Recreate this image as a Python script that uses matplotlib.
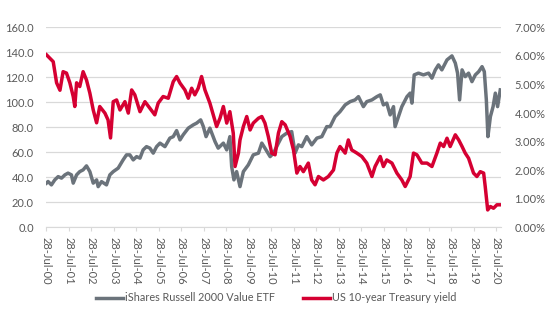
import matplotlib
matplotlib.use("Agg")
import matplotlib.pyplot as plt
from matplotlib.ticker import FuncFormatter

# years since 28-Jul-2000
gray_t = [0, 0.07, 0.22, 0.37, 0.52, 0.67, 0.82, 0.96, 1.11, 1.19,
          1.34, 1.48, 1.63, 1.78, 1.93, 2.08, 2.23, 2.3, 2.45, 2.67,
          2.82, 2.97, 3.19, 3.41, 3.56, 3.71, 3.86, 4.01, 4.16, 4.3,
          4.45, 4.6, 4.75, 4.9, 5.05, 5.27, 5.49, 5.64, 5.79, 5.94,
          6.08, 6.31, 6.53, 6.68, 6.86, 6.98, 7.1, 7.27, 7.5, 7.64,
          7.87, 8.02, 8.16, 8.24, 8.34, 8.46, 8.61, 8.76, 8.98, 9.2,
          9.43, 9.58, 9.72, 9.95, 10.1, 10.32, 10.47, 10.69, 10.91, 11.06,
          11.21, 11.36, 11.58, 11.8, 12.03, 12.25, 12.47, 12.62, 12.84, 13.06,
          13.29, 13.51, 13.73, 13.88, 14.1, 14.25, 14.48, 14.7, 14.85, 14.99,
          15.14, 15.29, 15.44, 15.51, 15.66, 15.81, 16.04, 16.18, 16.26, 16.36,
          16.55, 16.77, 17.0, 17.15, 17.3, 17.44, 17.59, 17.82, 18.04, 18.19,
          18.29, 18.38, 18.49, 18.63, 18.78, 18.93, 19.08, 19.23, 19.38, 19.48,
          19.57, 19.64, 19.75, 19.87, 19.97, 20.07, 20.19]
etf = [35.4, 36.7, 34, 38, 40.6, 39.4, 42, 43.4, 42, 35.4,
       42, 44.6, 46, 49.2, 44.6, 35.4, 38, 32.6, 36.6, 34,
       42, 44.6, 47.4, 54, 58, 58, 54, 56.6, 55.4, 62,
       64.6, 63.4, 59.4, 64.6, 67.4, 64.6, 71.4, 72.6, 77.4, 70,
       74, 79.4, 82, 83.4, 86, 80.6, 72.6, 79.4, 68.6, 63.4,
       67.4, 62, 72.6, 48.6, 38, 44.6, 32.6, 44.6, 50, 58,
       59.4, 67.4, 63.4, 56.6, 59.4, 67.4, 72.6, 75.4, 76.6, 59.4,
       66, 64.6, 72.6, 66, 71.4, 72.6, 80.6, 80.6, 88.6, 92.6,
       98, 100.6, 102, 104.6, 96.6, 100.6, 102, 104.6, 106, 98,
       99.4, 90, 96.6, 80.6, 88.6, 96.6, 104.6, 107.4, 99.4, 122,
       123.4, 122, 123.4, 119.4, 126, 130, 126, 134, 137.2, 131.4,
       123.4, 102, 126, 120.6, 123.4, 116.6, 122, 124.6, 128.6, 124.6,
       102, 72.6, 88.6, 96.6, 107.4, 96.6, 110]

red_t = [0, 0.3, 0.45, 0.6, 0.74, 0.89, 1.04, 1.19, 1.26, 1.34,
         1.48, 1.63, 1.78, 1.93, 2.08, 2.23, 2.37, 2.6, 2.74, 2.85,
         2.97, 3.12, 3.27, 3.49, 3.64, 3.79, 3.93, 4.16, 4.38, 4.6,
         4.82, 4.97, 5.19, 5.42, 5.64, 5.79, 5.94, 6.16, 6.31, 6.46,
         6.6, 6.75, 6.9, 7.05, 7.27, 7.42, 7.57, 7.72, 7.87, 8.02,
         8.16, 8.31, 8.39, 8.54, 8.61, 8.76, 8.91, 9.06, 9.2, 9.43,
         9.58, 9.72, 9.87, 10.02, 10.17, 10.32, 10.47, 10.62, 10.84, 10.99,
         11.14, 11.28, 11.43, 11.65, 11.8, 11.95, 12.1, 12.32, 12.54, 12.77,
         12.92, 13.06, 13.29, 13.43, 13.58, 13.81, 14.03, 14.25, 14.48, 14.62,
         14.85, 14.99, 15.14, 15.37, 15.59, 15.81, 15.96, 16.18, 16.33, 16.48,
         16.7, 16.93, 17.15, 17.37, 17.52, 17.67, 17.82, 17.96, 18.19, 18.34,
         18.49, 18.63, 18.78, 19.0, 19.15, 19.3, 19.45, 19.52, 19.63, 19.75,
         19.89, 20.04, 20.19]
yld = [6.04, 5.8, 5.06, 4.8, 5.45, 5.4, 5.06, 4.58, 4.23, 5.06,
       4.93, 5.45, 5.16, 4.7, 4.11, 3.66, 4.23, 4.0, 3.76, 3.13,
       4.4, 4.46, 4.11, 4.4, 4.0, 4.81, 4.64, 4.05, 4.4, 4.17,
       3.94, 4.35, 4.58, 4.52, 5.1, 5.28, 5.05, 4.81, 4.52, 4.87,
       4.64, 4.87, 5.28, 4.81, 4.35, 3.94, 3.53, 3.82, 4.23, 3.65,
       4.05, 3.3, 2.13, 2.6, 3.06, 3.53, 3.88, 3.41, 3.65, 3.82,
       3.88, 3.65, 3.18, 2.6, 2.54, 3.3, 3.7, 3.59, 3.18, 2.71,
       1.9, 2.13, 1.95, 2.25, 1.66, 1.49, 1.78, 1.66, 1.78, 2.01,
       2.6, 2.83, 2.6, 3.06, 2.71, 2.6, 2.48, 2.25, 1.78, 2.13,
       2.48, 2.13, 2.36, 2.25, 1.9, 1.66, 1.43, 1.78, 2.6, 2.54,
       2.25, 2.25, 2.13, 2.6, 2.95, 2.83, 3.12, 2.83, 3.24, 3.06,
       2.83, 2.6, 2.42, 1.9, 1.78, 1.95, 1.9, 1.43, 0.61, 0.73,
       0.67, 0.79, 0.79]

tick_labels = ["28-Jul-%02d" % y for y in range(0, 21)]

plt.rcParams["font.family"] = ["Lato", "DejaVu Sans"]
txt = "#595959"
grid = "#d9d9d9"

fig = plt.figure(figsize=(5.5, 3.3), dpi=100)
ax = fig.add_axes([0.0845, 0.311, 0.8255, 0.606])
ax2 = ax.twinx()

ax.plot(gray_t, etf, color="#6b737b", lw=2.5, label="iShares Russell 2000 Value ETF")
ax2.plot(red_t, yld, color="#d50032", lw=2.5, label="US 10-year Treasury yield")

ax.set_xlim(0, 20.2)
ax.set_ylim(0, 160)
ax2.set_ylim(0, 7)
ax.set_yticks(range(0, 161, 20))
ax2.set_yticks(range(0, 8))
ax.yaxis.set_major_formatter(FuncFormatter(lambda v, p: "%.1f" % v))
ax2.yaxis.set_major_formatter(FuncFormatter(lambda v, p: "%.2f%%" % v))
ax.set_xticks(range(0, 21))
ax.set_xticklabels(tick_labels, rotation=270, fontsize=8, color=txt)

ax.grid(axis="y", color=grid, lw=0.9)
ax.set_axisbelow(True)
for a in (ax, ax2):
    for s in a.spines.values():
        s.set_visible(False)
ax.spines["bottom"].set_visible(True)
ax.spines["bottom"].set_color(grid)
ax.tick_params(axis="x", length=3, color=grid, pad=4)
ax.tick_params(axis="y", length=0, pad=9, labelsize=8, labelcolor=txt)
ax2.tick_params(axis="y", length=0, pad=10, labelsize=8, labelcolor=txt)

h1, l1 = ax.get_legend_handles_labels()
h2, l2 = ax2.get_legend_handles_labels()
fig.legend(h1 + h2, l1 + l2, loc="center", bbox_to_anchor=(0.502, 0.097), ncol=2,
           frameon=False, fontsize=7.8, labelcolor=txt, handlelength=2.5,
           handletextpad=0.2, columnspacing=2.6)

fig.savefig("out.png", dpi=100)
